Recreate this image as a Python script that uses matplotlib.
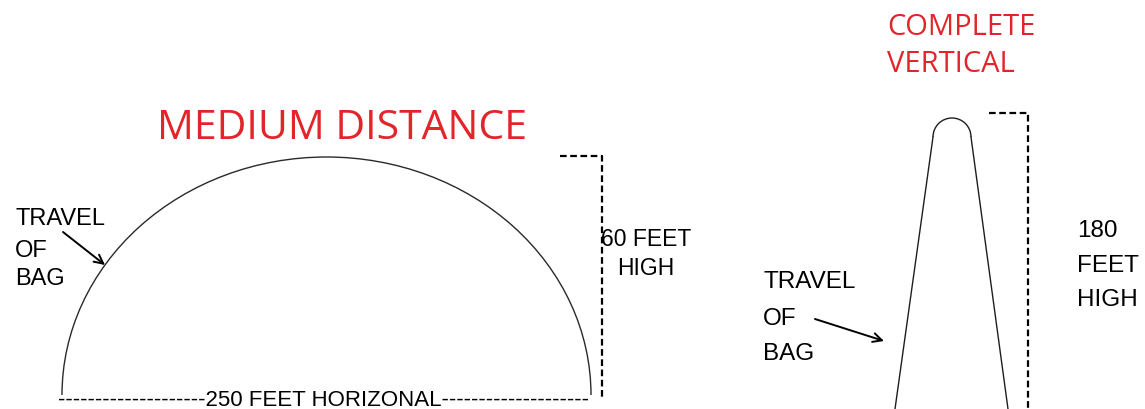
import matplotlib
matplotlib.use("Agg")
from matplotlib import pyplot as plt
from matplotlib.patches import Arc

# labels
title_left = "MEDIUM DISTANCE"
title_right = ["COMPLETE", "VERTICAL"]
travel_words = ["TRAVEL", "OF", "BAG"]
height_left = ["60 FEET", "HIGH"]
height_right = ["180", "FEET", "HIGH"]
horizontal_label = "250 FEET HORIZONAL"

# medium throw arc (pixel units): left end, right end, peak height
arc_x = [62, 591]
arc_base_y = 395
arc_top_y = 157

# vertical throw: bottom of sides, top of sides, cap radius
vert_left = [(895, 409), (933, 137)]
vert_right = [(1008, 409), (971, 137)]
cap_r = 19

RED = "#e1252b"
BLACK_FONT = ["Liberation Sans", "DejaVu Sans"]
RED_FONT = ["Open Sans", "DejaVu Sans"]


def draw():
    fig = plt.figure(figsize=(11.45, 4.09), dpi=100)
    ax = fig.add_axes([0, 0, 1, 1])
    ax.set_xlim(0, 1145)
    ax.set_ylim(409, 0)
    ax.axis("off")

    # medium distance arc
    cx = (arc_x[0] + arc_x[1]) / 2
    w = arc_x[1] - arc_x[0]
    h = 2 * (arc_base_y - arc_top_y)
    ax.add_patch(Arc((cx, arc_base_y), w, h, theta1=180, theta2=360,
                     color="#2a2a2a", lw=1.0))

    # vertical throw
    ax.plot([p[0] for p in vert_left], [p[1] for p in vert_left], color="#1e1e1e", lw=1.0)
    ax.plot([p[0] for p in vert_right], [p[1] for p in vert_right], color="#1e1e1e", lw=1.0)
    ccx = (vert_left[1][0] + vert_right[1][0]) / 2
    ax.add_patch(Arc((ccx, vert_left[1][1]), 2 * cap_r, 2 * cap_r,
                     theta1=180, theta2=360, color="#1e1e1e", lw=1.0))

    # dashed brackets
    dash = dict(color="black", lw=1.6, linestyle=(0, (3, 1.6)))
    ax.plot([560, 602, 602], [156, 156, 399], **dash)
    ax.plot([989, 1028, 1028], [113, 113, 409], **dash)

    # red titles
    ax.text(157, 139, title_left, color=RED, fontsize=29.5, family=RED_FONT,
            weight="medium", ha="left", va="baseline")
    for word, yb in zip(title_right, [35, 72]):
        ax.text(887, yb, word, color=RED, fontsize=21, family=RED_FONT,
                weight="medium", ha="left", va="baseline")

    # travel of bag labels
    for word, yb in zip(travel_words, [225, 257, 285]):
        ax.text(15, yb, word, fontsize=17, family=BLACK_FONT, va="baseline")
    for word, yb in zip(travel_words, [288, 325, 360]):
        ax.text(763, yb, word, fontsize=17.5, family=BLACK_FONT, va="baseline")

    arrow = dict(arrowstyle="->", color="black", lw=1.4, mutation_scale=16,
                 shrinkA=0, shrinkB=0)
    ax.annotate("", xy=(105, 265), xytext=(63, 232), arrowprops=arrow)
    ax.annotate("", xy=(884, 341), xytext=(815, 319), arrowprops=arrow)

    # heights
    for word, yb in zip(height_left, [246, 275]):
        ax.text(646, yb, word, fontsize=16.5, family=BLACK_FONT, ha="center", va="baseline")
    for word, yb in zip(height_right, [237, 272, 306]):
        ax.text(1077, yb, word, fontsize=17.5, family=BLACK_FONT, va="baseline")

    # horizontal distance
    dashes = "-" * 20
    ax.text(323, 406, dashes + horizontal_label + dashes, fontsize=16,
            family=BLACK_FONT, ha="center", va="baseline")

    fig.savefig("out.png", dpi=100)


if __name__ == "__main__":
    draw()
